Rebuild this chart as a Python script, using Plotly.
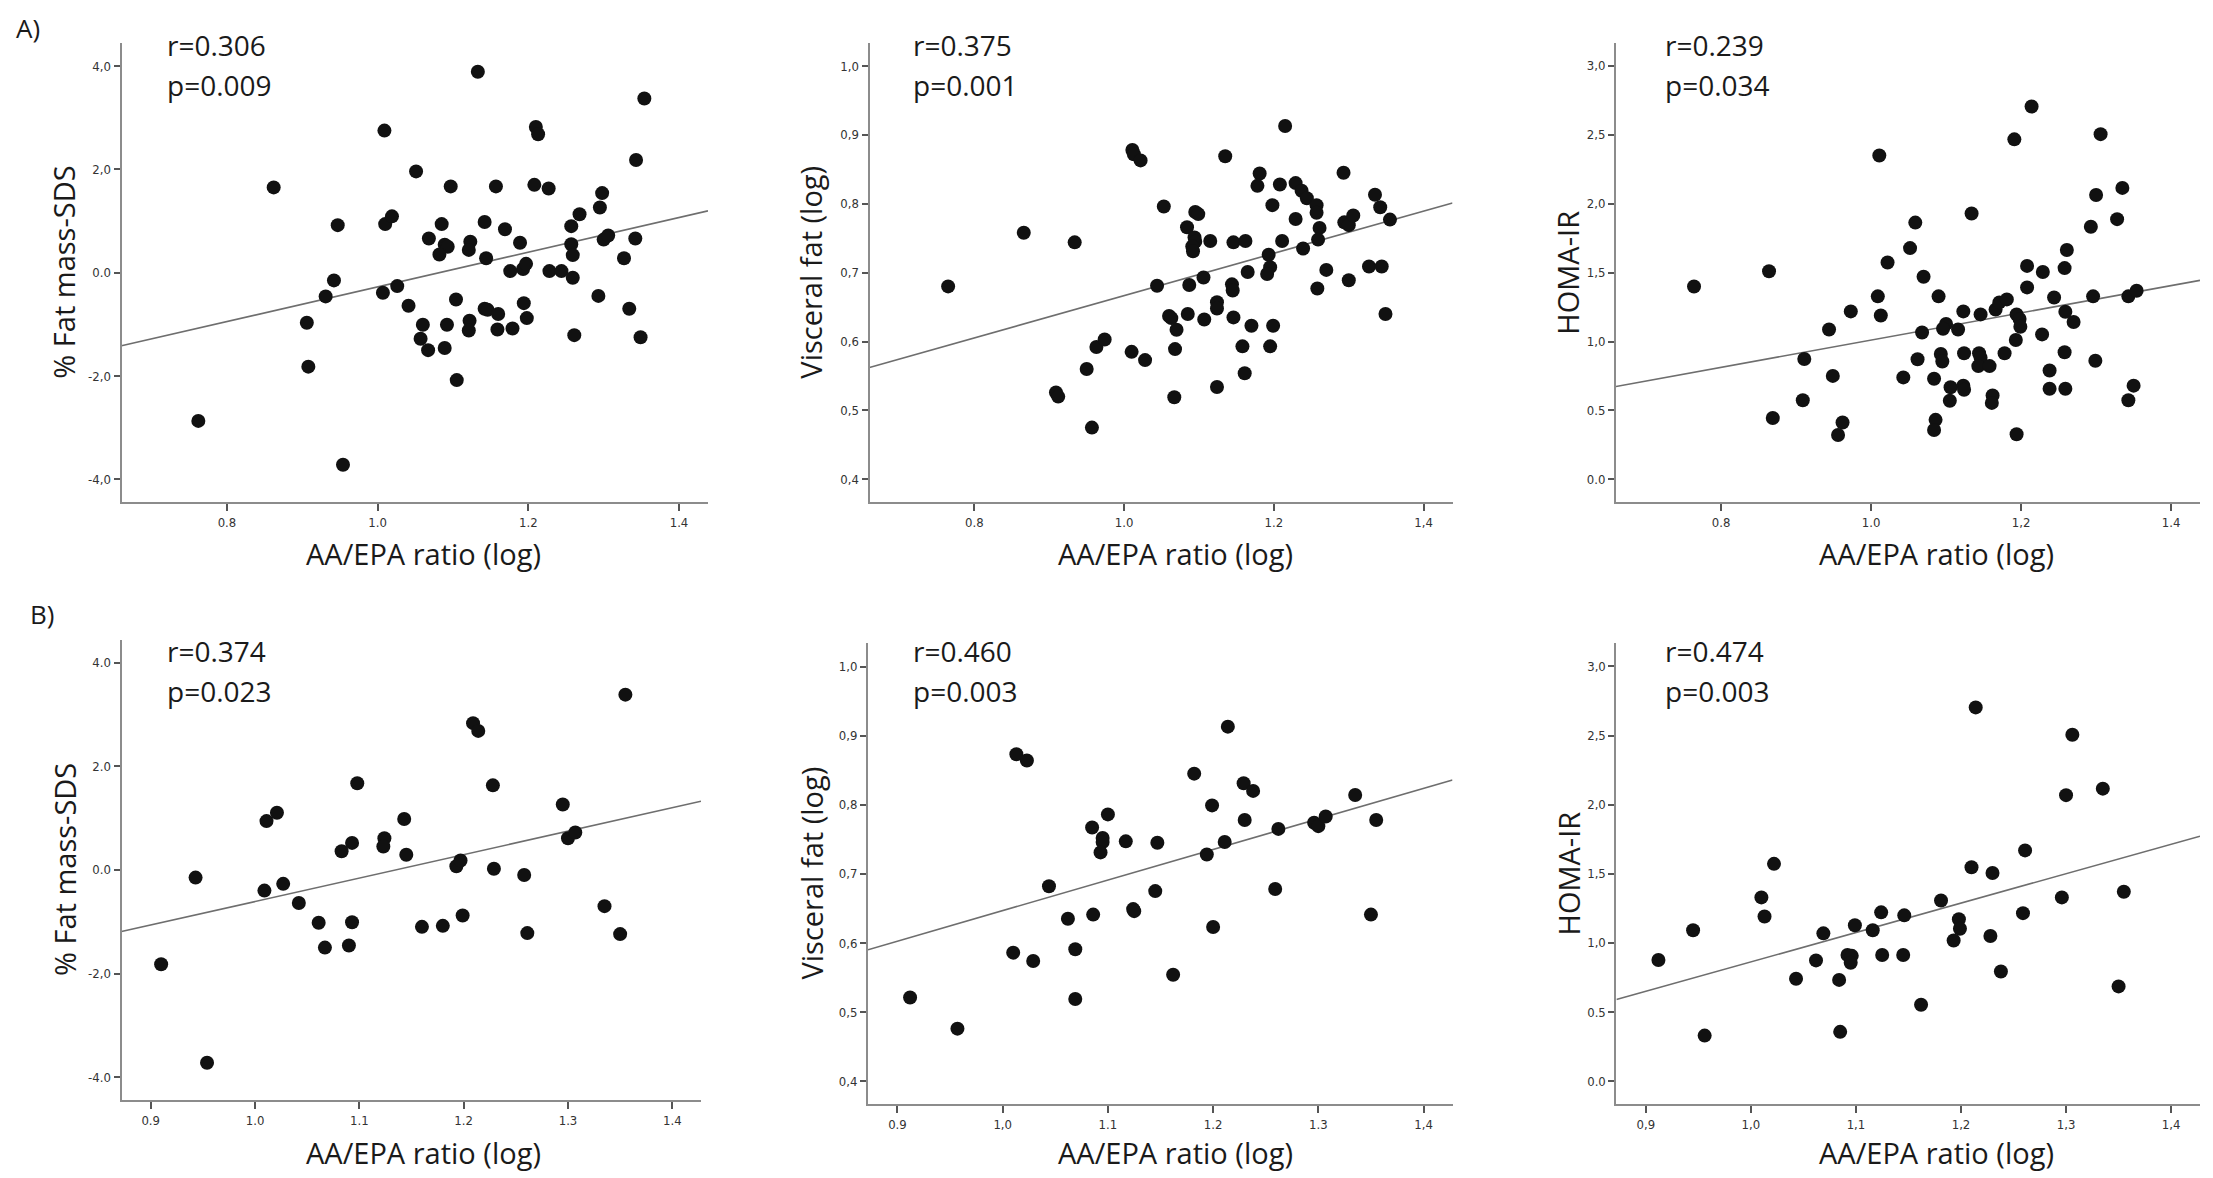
import numpy as np
import plotly.graph_objects as go

# === DATA ===
# A) whole cohort
a_fat_x = [0.762, 0.862, 0.954, 0.947, 0.942, 0.931, 0.906, 0.908, 1.009, 1.010,
           1.019, 1.007, 1.026, 1.051, 1.041, 1.060, 1.057, 1.067, 1.068, 1.085,
           1.089, 1.093, 1.082, 1.097, 1.092, 1.089, 1.104, 1.105, 1.123, 1.121,
           1.122, 1.121, 1.133, 1.142, 1.144, 1.142, 1.146, 1.157, 1.160, 1.159,
           1.169, 1.176, 1.179, 1.189, 1.193, 1.197, 1.194, 1.198, 1.210, 1.213,
           1.208, 1.227, 1.228, 1.244, 1.268, 1.257, 1.257, 1.259, 1.259, 1.261,
           1.298, 1.295, 1.300, 1.306, 1.293, 1.327, 1.334, 1.342, 1.343, 1.349,
           1.354]
a_fat_y = [-2.87, 1.65, -3.72, 0.92, -0.15, -0.46, -0.97, -1.82, 2.75, 0.94,
           1.09, -0.39, -0.26, 1.96, -0.64, -1.01, -1.28, -1.50, 0.66, 0.94,
           0.54, 0.50, 0.35, 1.67, -1.01, -1.46, -0.52, -2.08, 0.60, 0.44,
           -0.93, -1.12, 3.89, 0.98, 0.28, -0.70, -0.72, 1.67, -0.80, -1.10,
           0.84, 0.03, -1.08, 0.58, 0.07, 0.17, -0.59, -0.88, 2.82, 2.68,
           1.70, 1.63, 0.03, 0.03, 1.13, 0.90, 0.55, 0.34, -0.10, -1.21,
           1.54, 1.26, 0.64, 0.72, -0.45, 0.28, -0.70, 0.66, 2.18, -1.25,
           3.37]

a_vat_x = [0.765, 0.866, 0.934, 0.909, 0.912, 0.950, 0.957, 0.963, 0.974, 1.011,
           1.013, 1.022, 1.010, 1.028, 1.053, 1.044, 1.060, 1.063, 1.070, 1.068,
           1.067, 1.084, 1.087, 1.085, 1.095, 1.099, 1.094, 1.095, 1.091, 1.092,
           1.106, 1.107, 1.115, 1.124, 1.124, 1.124, 1.135, 1.146, 1.144, 1.145,
           1.146, 1.162, 1.165, 1.170, 1.158, 1.161, 1.181, 1.178, 1.198, 1.193,
           1.195, 1.191, 1.199, 1.195, 1.215, 1.208, 1.211, 1.229, 1.237, 1.244,
           1.229, 1.239, 1.257, 1.257, 1.261, 1.259, 1.270, 1.258, 1.293, 1.294,
           1.300, 1.306, 1.300, 1.327, 1.344, 1.335, 1.342, 1.355, 1.349]
a_vat_y = [0.680, 0.758, 0.744, 0.526, 0.520, 0.560, 0.475, 0.592, 0.603, 0.878,
           0.872, 0.863, 0.585, 0.573, 0.796, 0.681, 0.637, 0.634, 0.617, 0.589,
           0.519, 0.766, 0.682, 0.640, 0.788, 0.785, 0.751, 0.745, 0.738, 0.731,
           0.693, 0.632, 0.746, 0.657, 0.648, 0.534, 0.869, 0.744, 0.683, 0.674,
           0.635, 0.746, 0.701, 0.623, 0.593, 0.554, 0.844, 0.826, 0.798, 0.726,
           0.708, 0.698, 0.623, 0.593, 0.913, 0.828, 0.746, 0.830, 0.819, 0.808,
           0.778, 0.735, 0.798, 0.787, 0.765, 0.748, 0.704, 0.677, 0.845, 0.773,
           0.769, 0.783, 0.689, 0.709, 0.709, 0.813, 0.795, 0.777, 0.640]

a_homa_x = [0.764, 0.864, 0.869, 0.909, 0.911, 0.944, 0.949, 0.956, 0.962, 0.973,
            1.011, 1.009, 1.013, 1.022, 1.052, 1.059, 1.070, 1.068, 1.062, 1.043,
            1.090, 1.100, 1.096, 1.093, 1.095, 1.084, 1.086, 1.084, 1.106, 1.105,
            1.116, 1.123, 1.124, 1.123, 1.124, 1.134, 1.146, 1.144, 1.146, 1.143,
            1.158, 1.162, 1.161, 1.166, 1.171, 1.181, 1.178, 1.191, 1.194, 1.198,
            1.199, 1.193, 1.194, 1.214, 1.208, 1.208, 1.229, 1.228, 1.244, 1.238,
            1.238, 1.261, 1.258, 1.259, 1.270, 1.258, 1.259, 1.306, 1.300, 1.293,
            1.296, 1.299, 1.335, 1.328, 1.343, 1.354, 1.350, 1.343]
a_homa_y = [1.40, 1.51, 0.445, 0.574, 0.874, 1.087, 0.751, 0.322, 0.413, 1.219,
            2.350, 1.328, 1.189, 1.574, 1.678, 1.863, 1.470, 1.066, 0.872, 0.740,
            1.328, 1.128, 1.093, 0.910, 0.855, 0.730, 0.432, 0.358, 0.669, 0.571,
            1.087, 1.219, 0.915, 0.680, 0.650, 1.929, 1.197, 0.915, 0.883, 0.822,
            0.822, 0.609, 0.555, 1.232, 1.284, 1.306, 0.915, 2.467, 1.197, 1.164,
            1.107, 1.011, 0.328, 2.705, 1.549, 1.393, 1.505, 1.052, 1.320, 0.790,
            0.658, 1.664, 1.533, 1.216, 1.142, 0.923, 0.658, 2.505, 2.063, 1.833,
            1.328, 0.861, 2.115, 1.888, 1.328, 1.369, 0.680, 0.574]

# B) subgroup
b_fat_x = [0.910, 0.943, 0.954, 1.009, 1.011, 1.021, 1.027, 1.042, 1.061, 1.067,
           1.083, 1.093, 1.093, 1.090, 1.098, 1.124, 1.123, 1.143, 1.145, 1.160,
           1.180, 1.193, 1.197, 1.199, 1.209, 1.214, 1.228, 1.229, 1.258, 1.261,
           1.295, 1.300, 1.307, 1.335, 1.350, 1.355]
b_fat_y = [-1.82, -0.15, -3.72, -0.40, 0.94, 1.10, -0.27, -0.64, -1.02, -1.50,
           0.36, 0.52, -1.01, -1.46, 1.67, 0.61, 0.45, 0.98, 0.29, -1.10,
           -1.08, 0.07, 0.18, -0.88, 2.83, 2.68, 1.63, 0.02, -0.10, -1.22,
           1.26, 0.61, 0.72, -0.70, -1.24, 3.38]

b_vat_x = [0.912, 0.957, 1.013, 1.023, 1.010, 1.029, 1.044, 1.062, 1.069, 1.069,
           1.085, 1.086, 1.095, 1.095, 1.093, 1.100, 1.117, 1.124, 1.125, 1.147,
           1.145, 1.162, 1.182, 1.194, 1.199, 1.200, 1.214, 1.211, 1.229, 1.238,
           1.230, 1.262, 1.259, 1.296, 1.300, 1.307, 1.335, 1.355, 1.350]
b_vat_y = [0.521, 0.476, 0.873, 0.864, 0.586, 0.574, 0.682, 0.635, 0.591, 0.519,
           0.767, 0.641, 0.752, 0.746, 0.731, 0.786, 0.747, 0.649, 0.646, 0.745,
           0.675, 0.554, 0.845, 0.728, 0.799, 0.623, 0.913, 0.746, 0.831, 0.820,
           0.778, 0.765, 0.678, 0.774, 0.769, 0.783, 0.814, 0.778, 0.641]

b_homa_x = [0.912, 0.945, 0.956, 1.010, 1.013, 1.022, 1.043, 1.062, 1.069, 1.084,
            1.085, 1.092, 1.096, 1.095, 1.099, 1.116, 1.124, 1.125, 1.146, 1.145,
            1.162, 1.181, 1.198, 1.199, 1.193, 1.214, 1.210, 1.230, 1.228, 1.238,
            1.261, 1.259, 1.296, 1.300, 1.306, 1.335, 1.355, 1.350]
b_homa_y = [0.876, 1.091, 0.329, 1.329, 1.191, 1.572, 0.740, 0.873, 1.069, 0.732,
            0.356, 0.912, 0.906, 0.856, 1.127, 1.091, 1.221, 0.912, 1.199, 0.912,
            0.552, 1.307, 1.171, 1.102, 1.017, 2.704, 1.547, 1.506, 1.050, 0.793,
            1.669, 1.215, 1.329, 2.069, 2.506, 2.116, 1.370, 0.685]

stats_r = ["r=0.306", "r=0.375", "r=0.239", "r=0.374", "r=0.460", "r=0.474"]
stats_p = ["p=0.009", "p=0.001", "p=0.034", "p=0.023", "p=0.003", "p=0.003"]
y_titles = ["% Fat mass-SDS", "Visceral fat (log)", "HOMA-IR"] * 2
x_title = "AA/EPA ratio (log)"

# tick labels exactly as printed (mixed decimal separators)
a_x_ticks = [0.8, 1.0, 1.2, 1.4]
a_x_text = [["0.8", "1.0", "1.2", "1.4"],
            ["0.8", "1.0", "1.2", "1,4"],
            ["0.8", "1.0", "1,2", "1.4"]]
b_x_ticks = [0.9, 1.0, 1.1, 1.2, 1.3, 1.4]
b_x_text = [["0.9", "1.0", "1.1", "1.2", "1.3", "1.4"],
            ["0.9", "1,0", "1.1", "1.2", "1.3", "1,4"],
            ["0,9", "1,0", "1,1", "1,2", "1,3", "1,4"]]
fat_ticks = [-4, -2, 0, 2, 4]
vat_ticks = [0.4, 0.5, 0.6, 0.7, 0.8, 0.9, 1.0]
homa_ticks = [0, 0.5, 1.0, 1.5, 2.0, 2.5, 3.0]
y_tick_text = [["-4,0", "-2,0", "0.0", "2,0", "4,0"],
               ["0,4", "0,5", "0,6", "0,7", "0,8", "0,9", "1,0"],
               ["0.0", "0.5", "1,0", "1,5", "2,0", "2,5", "3,0"],
               ["-4.0", "-2,0", "0.0", "2.0", "4.0"],
               ["0,4", "0,5", "0,6", "0,7", "0,8", "0,9", "1,0"],
               ["0.0", "0.5", "1,0", "1,5", "2,0", "2,5", "3,0"]]

# === LAYOUT CONFIG (pixels of a 2213 x 1178 canvas) ===
W, H = 2213, 1178
# left, right, top, bottom of each plot area
boxes = [(121.5, 708, 43.3, 502), (869.5, 1452.5, 43.3, 502), (1616, 2200, 43.3, 502),
         (121.5, 701, 640, 1100), (868, 1452.5, 643, 1104), (1616.4, 2200, 643, 1104)]
x_ranges = [[0.660, 1.4385]] * 3 + [[0.872, 1.4275]] * 3
y_ranges = [[-4.44, 4.44], [0.367, 1.033], [-0.164, 3.164],
            [-4.44, 4.434], [0.367, 1.034], [-0.166, 3.17]]
stat_left = [165, 911, 1662.6] * 2
stat_y = [(45, 85)] * 3 + [(650.6, 690.7)] * 3
ytitle_x = [64, 811, 1568] * 2
xtitle_x = [423, 1175, 1936] * 2
xtitle_y = [553.7] * 3 + [1152.7] * 3

panels = [(a_fat_x, a_fat_y), (a_vat_x, a_vat_y), (a_homa_x, a_homa_y),
          (b_fat_x, b_fat_y), (b_vat_x, b_vat_y), (b_homa_x, b_homa_y)]
y_ticks = [fat_ticks, vat_ticks, homa_ticks] * 2

TEXT_FONT = "Open Sans, Liberation Sans, sans-serif"
TICK_FONT = dict(family="Liberation Sans Narrow, DejaVu Sans Condensed, sans-serif",
                 size=13, color="#333333")
AXIS_COLOR = "#8c8c8c"


def px(x):
    return x / W


def py(y):
    return 1 - y / H


fig = go.Figure()
annotations = []

for i, (xs, ys) in enumerate(panels):
    n = "" if i == 0 else str(i + 1)
    xa, ya = "x" + n, "y" + n

    # least squares fit line over the whole x axis
    slope, icpt = np.polyfit(xs, ys, 1)
    xl = np.array(x_ranges[i])
    fig.add_trace(go.Scatter(x=xl, y=slope * xl + icpt, mode="lines",
                             line=dict(color="#6e6e6e", width=1.6),
                             xaxis=xa, yaxis=ya, showlegend=False, hoverinfo="skip"))
    fig.add_trace(go.Scatter(x=xs, y=ys, mode="markers",
                             marker=dict(color="#111111", size=14),
                             xaxis=xa, yaxis=ya, showlegend=False))

    l, r, t, b = boxes[i]
    xt = a_x_ticks if i < 3 else b_x_ticks
    xtt = a_x_text[i] if i < 3 else b_x_text[i - 3]
    fig.layout["xaxis" + n] = dict(
        domain=[px(l), px(r)], range=x_ranges[i], anchor=ya,
        showline=True, linecolor=AXIS_COLOR, linewidth=2,
        ticks="outside", ticklen=7, tickwidth=1.5, tickcolor="#555555",
        tickvals=xt, ticktext=xtt, tickfont=TICK_FONT,
        showgrid=False, zeroline=False)
    fig.layout["yaxis" + n] = dict(
        domain=[py(b), py(t)], range=y_ranges[i], anchor=xa,
        showline=True, linecolor=AXIS_COLOR, linewidth=2,
        ticks="outside", ticklen=6, tickwidth=1.5, tickcolor="#555555",
        tickvals=y_ticks[i], ticktext=y_tick_text[i], tickfont=TICK_FONT,
        showgrid=False, zeroline=False)

    # r and p values
    for txt, yy in zip((stats_r[i], stats_p[i]), stat_y[i]):
        annotations.append(dict(text=txt, x=px(stat_left[i]), y=py(yy),
                                xref="paper", yref="paper", xanchor="left", yanchor="middle",
                                showarrow=False, font=dict(family=TEXT_FONT, size=28, color="#1a1a1a")))
    # axis titles
    annotations.append(dict(text=y_titles[i], x=px(ytitle_x[i]), y=py((t + b) / 2),
                            xref="paper", yref="paper", xanchor="center", yanchor="middle",
                            textangle=-90, showarrow=False,
                            font=dict(family=TEXT_FONT, size=29, color="#1a1a1a")))
    annotations.append(dict(text=x_title, x=px(xtitle_x[i]), y=py(xtitle_y[i]),
                            xref="paper", yref="paper", xanchor="center", yanchor="middle",
                            showarrow=False, font=dict(family=TEXT_FONT, size=29, color="#1a1a1a")))

# panel letters
for txt, lx, ly in (("A)", 14, 28), ("B)", 27.5, 613.6)):
    annotations.append(dict(text=txt, x=px(lx), y=py(ly), xref="paper", yref="paper",
                            xanchor="left", yanchor="middle", showarrow=False,
                            font=dict(family=TEXT_FONT, size=26, color="#1a1a1a")))

fig.update_layout(
    width=W, height=H,
    margin=dict(l=0, r=0, t=0, b=0),
    paper_bgcolor="white", plot_bgcolor="white",
    showlegend=False,
    annotations=annotations,
)

# drop the default page margin so the canvas sits at the window corner
fig.write_html("out.html", config={"displayModeBar": False},
               post_script="document.body.style.margin='0';document.body.style.overflow='hidden';")
